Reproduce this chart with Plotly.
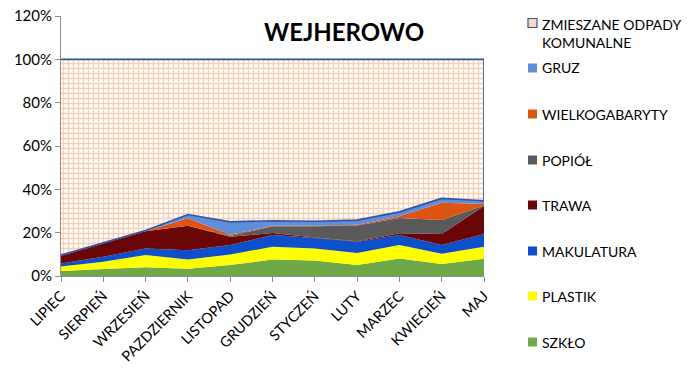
import plotly.graph_objects as go
import numpy as np

months = ["LIPIEC", "SIERPIEŃ", "WRZESIEŃ", "PAZDZIERNIK", "LISTOPAD", "GRUDZIEŃ",
          "STYCZEŃ", "LUTY", "MARZEC", "KWIECIEŃ", "MAJ"]

szklo = [2.3, 3.2, 4.0, 3.3, 5.1, 7.6, 7.2, 5.1, 8.1, 5.5, 8.0]
plastik = [2.1, 3.4, 5.7, 4.3, 4.8, 5.9, 5.5, 5.5, 6.2, 4.8, 5.5]
makulatura = [1.4, 2.3, 3.0, 4.3, 4.4, 5.4, 4.8, 5.2, 4.6, 4.0, 5.9]
trawa = [3.5, 6.1, 8.0, 11.3, 3.8, 0.9, 0.3, 0.2, 0.8, 5.1, 12.9]
popiol = [0.0, 0.0, 0.0, 0.0, 0.4, 3.2, 5.2, 7.3, 7.1, 6.4, 0.2]
wielkogabaryty = [0.0, 0.0, 0.0, 3.4, 0.5, 0.2, 0.2, 0.3, 0.8, 8.0, 0.7]
gruz = [0.3, 0.3, 0.3, 1.8, 6.0, 2.3, 2.1, 2.2, 2.0, 2.0, 1.5]
zmieszane = [90.4, 84.7, 79.0, 71.6, 75.0, 74.5, 74.7, 74.2, 70.4, 64.2, 65.3]

yticks = [0, 20, 40, 60, 80, 100, 120]

FONT = "Lato"

series = [
    ("SZKŁO", szklo, "#6FA849"),
    ("PLASTIK", plastik, "#FFFF00"),
    ("MAKULATURA", makulatura, "#0D4FC9"),
    ("TRAWA", trawa, "#6A0606"),
    ("POPIÓŁ", popiol, "#5A5A5A"),
    ("WIELKOGABARYTY", wielkogabaryty, "#DD5412"),
    ("GRUZ", gruz, "#5F8FDB"),
]

fig = go.Figure()
for name, vals, col in series:
    fig.add_trace(go.Scatter(
        x=months, y=vals, name=name, stackgroup="one", mode="none",
        fillcolor=col, line=dict(width=0), showlegend=False, hoverinfo="skip"))

cum = np.sum([np.array(v) for _, v, _ in series], axis=0)
top = cum + np.array(zmieszane)
fig.add_trace(go.Scatter(
    x=months + months[::-1], y=list(top) + list(cum[::-1]),
    name="ZMIESZANE ODPADY KOMUNALNE", fill="toself", mode="lines",
    line=dict(color="#2F55A6", width=1.6),
    fillcolor="#FFFFFF",
    fillpattern=dict(shape="+", fgcolor="#F2A066", bgcolor="#FFFFFF", size=5, solidity=0.45),
    showlegend=False, hoverinfo="skip"))

# plot area geometry (px)
L, R, T, B = 61, 484, 16, 276
def px(xp):
    return (xp - L) / (R - L)
def py(yp):
    return (B - yp) / (B - T)

shapes = []
annotations = []
legend_items = [
    ("ZMIESZANE ODPADY<br>KOMUNALNE", 23, 33, None),
    ("GRUZ", 68, 68, "#5F8FDB"),
    ("WIELKOGABARYTY", 114, 114, "#DD5412"),
    ("POPIÓŁ", 160, 160, "#5A5A5A"),
    ("TRAWA", 205, 205, "#6A0606"),
    ("MAKULATURA", 251, 251, "#0D4FC9"),
    ("PLASTIK", 296, 296, "#FFFF00"),
    ("SZKŁO", 342, 342, "#6FA849"),
]
for text, ysym, ytxt, col in legend_items:
    if col is None:
        shapes.append(dict(type="rect", xref="paper", yref="paper",
                           x0=px(528), x1=px(537), y0=py(ysym + 4.5), y1=py(ysym - 4.5),
                           fillcolor="#FBD7BE", line=dict(color="#2F55A6", width=1.2)))
    else:
        shapes.append(dict(type="rect", xref="paper", yref="paper",
                           x0=px(528), x1=px(537), y0=py(ysym + 4.5), y1=py(ysym - 4.5),
                           fillcolor=col, line=dict(width=0)))
    annotations.append(dict(text=text, xref="paper", yref="paper", x=px(540), y=py(ytxt),
                            xanchor="left", yanchor="middle", align="left", showarrow=False,
                            font=dict(family=FONT, size=14, color="#000000")))

annotations.append(dict(text="<b>WEJHEROWO</b>", xref="paper", yref="paper",
                        x=px(344), y=py(31), xanchor="center", yanchor="middle",
                        showarrow=False, font=dict(family=FONT, size=24, color="#000000")))

fig.update_layout(
    width=690, height=374,
    margin=dict(l=L, r=690 - R, t=T, b=374 - B),
    paper_bgcolor="white", plot_bgcolor="white",
    showlegend=False,
    shapes=shapes, annotations=annotations,
    font=dict(family=FONT, color="#000000"),
    xaxis=dict(type="category", range=[0, 10], showgrid=False, automargin=False,
               showline=True, linecolor="#8C8C8C", linewidth=1,
               ticks="outside", ticklen=5, tickcolor="#8C8C8C",
               tickangle=-45, tickfont=dict(family=FONT, size=14.5, color="#000000")),
    yaxis=dict(range=[0, 120], tickvals=yticks, ticktext=[f"{v}%" for v in yticks],
               showgrid=True, gridcolor="#8C8C8C", gridwidth=1, zeroline=False,
               automargin=False,
               showline=True, linecolor="#8C8C8C", linewidth=1,
               ticks="outside", ticklen=5, tickcolor="#8C8C8C",
               tickfont=dict(family=FONT, size=15, color="#000000")),
)

fig.write_html("out.html", config={"displayModeBar": False},
               post_script="document.body.style.margin='0px';")
